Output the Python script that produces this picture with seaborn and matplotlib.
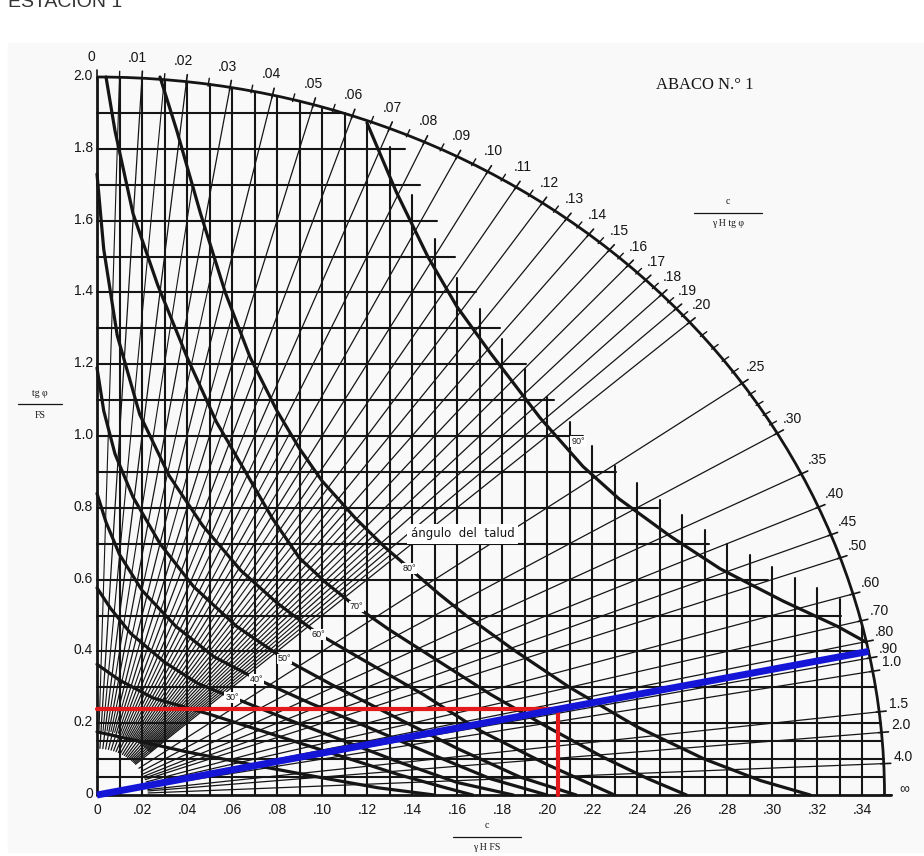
import numpy as np
import pandas as pd
import matplotlib
matplotlib.use("Agg")
import matplotlib.pyplot as plt
import seaborn as sns
from matplotlib.patches import Arc

# ---- values ----
arc_a = 0.35   # outer arc meets the c/(gamma H FS) axis here
arc_b = 2.0    # outer arc meets the tg(phi)/FS axis here

ratio_values = [0, .01, .02, .03, .04, .05, .06, .07, .08, .09, .10, .11, .12, .13, .14,
                .15, .16, .17, .18, .19, .20, .25, .30, .35, .40, .45, .50, .60, .70, .80,
                .90, 1.0, 1.5, 2.0, 4.0, np.inf]
ratio_labels = ["0", ".01", ".02", ".03", ".04", ".05", ".06", ".07", ".08", ".09", ".10",
                ".11", ".12", ".13", ".14", ".15", ".16", ".17", ".18", ".19", ".20", ".25",
                ".30", ".35", ".40", ".45", ".50", ".60", ".70", ".80", ".90", "1.0", "1.5",
                "2.0", "4.0", "∞"]
ratio_minor = [.005, .015, .025, .035, .045, .055, .065, .075, .085, .095, .105, .115, .125,
               .135, .145, .155, .165, .175, .185, .195, .21, .22, .23, .24, .26, .27, .28, .29]
hatch_ratios = [.005, .015, .025, .035, .045, .055, .065, .075, .085, .095, .105, .115, .125,
                .135, .145, .155, .165, .175, .185, .195]

x_ticks = [0, .02, .04, .06, .08, .10, .12, .14, .16, .18, .20, .22, .24, .26, .28, .30, .32, .34]
x_labels = ["0", ".02", ".04", ".06", ".08", ".10", ".12", ".14", ".16", ".18", ".20", ".22",
            ".24", ".26", ".28", ".30", ".32", ".34"]
y_ticks = [0, .2, .4, .6, .8, 1.0, 1.2, 1.4, 1.6, 1.8, 2.0]
y_labels = ["0", "0.2", "0.4", "0.6", "0.8", "1.0", "1.2", "1.4", "1.6", "1.8", "2.0"]

grid_x = [.01, .02, .03, .04, .05, .06, .07, .08, .09, .10, .11, .12, .13, .14, .15, .16, .17,
          .18, .19, .20, .21, .22, .23, .24, .25, .26, .27, .28, .29, .30, .31, .32, .33, .34]
grid_y = [.05, .1, .15, .2, .3, .4, .5, .6, .7, .8, .9, 1.0, 1.1, 1.2, 1.3, 1.4, 1.5, 1.6,
          1.7, 1.8, 1.9]

# slope angle curves (angulo del talud)
c90_x = [0.120, 0.133, 0.147, 0.160, 0.175, 0.197, 0.216, 0.232, 0.255, 0.277, 0.305, 0.329, 0.342]
c90_y = [1.872, 1.68, 1.50, 1.36, 1.23, 1.05, 0.915, 0.825, 0.72, 0.63, 0.54, 0.47, 0.425]
c80_x = [0.028, 0.0355, 0.046, 0.057, 0.068, 0.080, 0.090, 0.100, 0.115, 0.128, 0.140, 0.152,
         0.164, 0.185, 0.21, 0.24, 0.27, 0.295, 0.317]
c80_y = [2.0, 1.85, 1.62, 1.40, 1.22, 1.07, 0.965, 0.875, 0.77, 0.69, 0.625, 0.56,
         0.50, 0.405, 0.30, 0.19, 0.10, 0.04, 0.0]
c70_x = [0.004, 0.008, 0.016, 0.027, 0.040, 0.053, 0.066, 0.078, 0.090, 0.102, 0.114, 0.13,
         0.15, 0.175, 0.20, 0.225, 0.245, 0.262]
c70_y = [2.0, 1.85, 1.62, 1.42, 1.22, 1.04, 0.90, 0.77, 0.66, 0.59, 0.53, 0.46,
         0.38, 0.28, 0.19, 0.105, 0.045, 0.0]
c60_x = [0, 0.003, 0.009, 0.019, 0.032, 0.047, 0.064, 0.080, 0.098, 0.12, 0.145, 0.17, 0.20, 0.23]
c60_y = [1.73, 1.52, 1.28, 1.06, 0.89, 0.75, 0.625, 0.535, 0.45, 0.37, 0.28, 0.18, 0.085, 0.0]
c50_x = [0, 0.003, 0.008, 0.016, 0.028, 0.043, 0.062, 0.083, 0.105, 0.13, 0.16, 0.188, 0.213]
c50_y = [1.19, 1.07, 0.95, 0.83, 0.70, 0.58, 0.47, 0.38, 0.305, 0.225, 0.13, 0.05, 0.0]
c40_x = [0, 0.004, 0.010, 0.02, 0.035, 0.052, 0.071, 0.095, 0.12, 0.15, 0.175, 0.20]
c40_y = [0.84, 0.76, 0.67, 0.57, 0.47, 0.385, 0.323, 0.255, 0.19, 0.11, 0.045, 0.0]
c30_x = [0, 0.006, 0.015, 0.03, 0.045, 0.061, 0.085, 0.11, 0.135, 0.16, 0.185]
c30_y = [0.577, 0.52, 0.45, 0.37, 0.31, 0.27, 0.21, 0.15, 0.09, 0.035, 0.0]
c20_x = [0, 0.01, 0.025, 0.05, 0.08, 0.11, 0.135, 0.155, 0.167]
c20_y = [0.364, 0.32, 0.27, 0.225, 0.165, 0.105, 0.055, 0.02, 0.0]
c10_x = [0, 0.02, 0.04, 0.07, 0.10, 0.125, 0.15]
c10_y = [0.176, 0.148, 0.12, 0.083, 0.048, 0.02, 0.0]

curves = {90: (c90_x, c90_y), 80: (c80_x, c80_y), 70: (c70_x, c70_y), 60: (c60_x, c60_y),
          50: (c50_x, c50_y), 40: (c40_x, c40_y), 30: (c30_x, c30_y), 20: (c20_x, c20_y),
          10: (c10_x, c10_y)}
labelled_angles = [90, 80, 70, 60, 50, 40, 30]
label_ratio = 0.22

# worked example
red_x = [0, 0.205, 0.205]
red_y = [0.24, 0.24, 0.0]
blue_x = [0, 0.343]
blue_y = [0, 0.40]

# ---- figure: one axes over the whole canvas, origin at pixel (97, 795) ----
SX, SY = 2250.0, 359.0
X0, Y0 = 97.0, 795.0
W, H = 924, 856

sns.set_theme(style="white")
plt.rcParams["font.family"] = ["Liberation Sans", "DejaVu Sans"]

fig = plt.figure(figsize=(W / 100, H / 100), dpi=100)
ax = fig.add_axes([0, 0, 1, 1])
ax.set_xlim(-X0 / SX, (W - X0) / SX)
ax.set_ylim(-(H - Y0) / SY, Y0 / SY)
ax.axis("off")
ax.add_patch(plt.Rectangle((8 / W, 0.005), 1, 1 - 43 / H - 0.005, transform=ax.transAxes,
                           color="#f9f9f9", zorder=0))

INK = "#151515"


def arc_point(r):
    if np.isinf(r):
        return arc_a, 0.0
    y = 1.0 / np.sqrt((r / arc_a) ** 2 + (1.0 / arc_b) ** 2)
    return r * y, y


def shift(x, y, radial, tangent=0.0):
    # move a point along its direction from the origin, in pixels
    u, v = x * SX, y * SY
    n = np.hypot(u, v)
    du, dv = u / n, v / n
    return (u + du * radial - dv * tangent) / SX, (v + dv * radial + du * tangent) / SY


def ray_cross(cx, cy, r):
    cx, cy = np.asarray(cx, float), np.asarray(cy, float)
    h = cx - r * cy
    idx = np.where(np.diff(np.sign(h)) != 0)[0]
    if len(idx) == 0:
        return None
    i = idx[0]
    t = h[i] / (h[i] - h[i + 1])
    return cx[i] + t * (cx[i + 1] - cx[i]), cy[i] + t * (cy[i + 1] - cy[i])


def arc_y(x):
    return arc_b * np.sqrt(max(0.0, 1 - (x / arc_a) ** 2))


def arc_x(y):
    return arc_a * np.sqrt(max(0.0, 1 - (y / arc_b) ** 2))


# grid, cut off just beyond the 90 degree curve
for gx in grid_x:
    top = arc_y(gx)
    if gx >= c90_x[0]:
        top = min(top, np.interp(gx, c90_x, c90_y) + 0.08)
    ax.plot([gx, gx], [0, top], color=INK, lw=1.5, zorder=2)
for gy in grid_y:
    right = arc_x(gy)
    if gy >= c90_y[-1]:
        right = min(right, np.interp(gy, c90_y[::-1], c90_x[::-1]) + 0.012)
    ax.plot([0, right], [gy, gy], color=INK, lw=1.5, zorder=2)

# radial lines
for r in ratio_values[1:-1]:
    px, py = arc_point(r)
    ax.plot([px * 0.065, px], [py * 0.065, py], color=INK, lw=0.9, zorder=2)
for r in hatch_ratios:
    px, py = arc_point(r)
    end = ray_cross(c80_x, c80_y, r) or (px, py)
    ax.plot([px * 0.09, end[0]], [py * 0.09, end[1]], color=INK, lw=0.8, zorder=2)

# slope angle curves
rows = []
for ang, (cx, cy) in curves.items():
    rows += [{"angle": ang, "x": a, "y": b} for a, b in zip(cx, cy)]
curve_df = pd.DataFrame(rows)
sns.lineplot(data=curve_df, x="x", y="y", units="angle", estimator=None, sort=False,
             color=INK, lw=2.3, ax=ax, zorder=3)

# axes lines and outer arc
ax.plot([0, 0], [0, arc_b], color=INK, lw=2.0, zorder=3)
ax.plot([0, arc_a + 0.003], [0, 0], color=INK, lw=2.0, zorder=3)
ax.add_patch(Arc((0, 0), 2 * arc_a, 2 * arc_b, theta1=0, theta2=90, color=INK, lw=2.0, zorder=3))

# arc ticks and labels
for r in ratio_minor:
    px, py = arc_point(r)
    a0, b0 = shift(px, py, -2)
    a1, b1 = shift(px, py, 6)
    ax.plot([a0, a1], [b0, b1], color=INK, lw=1.0, zorder=3)
for r, lab in zip(ratio_values, ratio_labels):
    px, py = arc_point(r)
    a0, b0 = shift(px, py, -3)
    a1, b1 = shift(px, py, 7)
    ax.plot([a0, a1], [b0, b1], color=INK, lw=1.2, zorder=3)
    lx, ly = shift(px, py, 20, 6)
    ax.text(lx, ly, lab, ha="center", va="center", fontsize=10, color=INK)

# axis tick labels
for v, lab in zip(x_ticks, x_labels):
    ax.text(v, -15 / SY, lab, ha="center", va="center", fontsize=10, color=INK)
for v, lab in zip(y_ticks, y_labels):
    ax.text(-4 / SX, v + 1 / SY, lab, ha="right", va="center", fontsize=10, color=INK)

# slope angle labels along one ray
for ang in labelled_angles:
    hit = ray_cross(*curves[ang], label_ratio)
    if hit is None:
        continue
    dx, dy = (8, 10) if ang == 90 else (0, 0)
    ax.text(hit[0] + dx / SX, hit[1] + dy / SY, f"{ang}°", ha="center", va="center",
            fontsize=6.5, color=INK, zorder=5,
            bbox=dict(boxstyle="square,pad=0.1", fc="white", ec="none"))
ax.text(0.1625, 0.728, "ángulo  del  talud", ha="center", va="center", fontsize=8.5,
        color=INK, zorder=5, family="DejaVu Sans",
        bbox=dict(boxstyle="square,pad=0.3", fc="white", ec="none"))

# worked example
ax.plot(red_x, red_y, color="#e3191c", lw=3.0, zorder=6, solid_joinstyle="miter")
ax.plot(blue_x, blue_y, color="#1515d8", lw=5.0, zorder=7, solid_capstyle="butt")

# titles and fraction labels
ax.text(705 / W, 1 - 85 / H, "ABACO N.° 1", transform=ax.transAxes, ha="center", va="center",
        fontsize=12, family="Liberation Serif", color=INK)
ax.text(8 / W, 1 - 11 / H, "ESTACION 1", transform=ax.transAxes, ha="left", va="bottom",
        fontsize=14, color="#333333")


def fraction(xp, yp, top, bottom, half):
    ax.text(xp / W, 1 - (yp - 11) / H, top, transform=ax.transAxes, ha="center", va="center",
            fontsize=7, family="Liberation Serif", color=INK)
    ax.plot([(xp - half) / W, (xp + half) / W], [1 - yp / H, 1 - yp / H],
            transform=ax.transAxes, color=INK, lw=0.9)
    ax.text(xp / W, 1 - (yp + 11) / H, bottom, transform=ax.transAxes, ha="center",
            va="center", fontsize=7, family="Liberation Serif", color=INK)


fraction(728, 213, "c", "γ H tg φ", 34)
fraction(40, 404, "tg φ", "FS", 22)
fraction(487, 837, "c", "γ H FS", 34)

fig.savefig("out.png", dpi=100)
